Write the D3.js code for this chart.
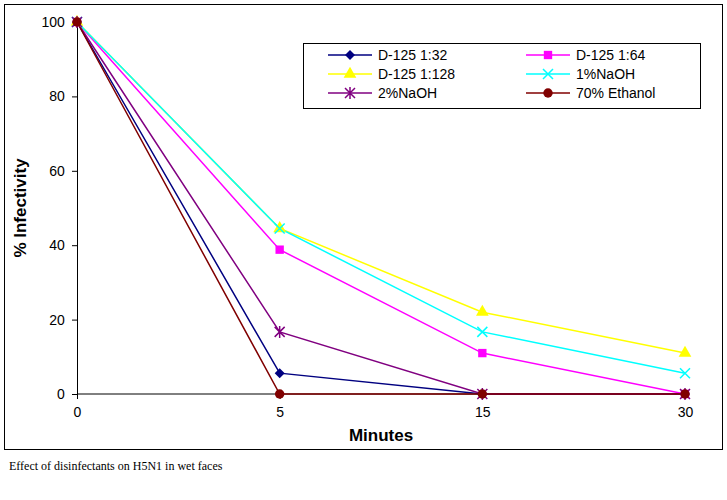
<!DOCTYPE html>
<html>
<head>
<script src="https://cdn.jsdelivr.net/npm/d3@7"></script>
<style>body{margin:0;background:#fff}</style>
</head>
<body>
<script>
// chart data
var minutes = ["0", "5", "15", "30"];
var yTicks = [0, 20, 40, 60, 80, 100];
var seriesNames = ["D-125 1:32", "D-125 1:64", "D-125 1:128", "1%NaOH", "2%NaOH", "70% Ethanol"];
var d125_32 = [100, 5.6, 0, 0];
var d125_64 = [100, 38.8, 11, 0];
var d125_128 = [100, 44.5, 22, 11];
var naoh1 = [100, 44.5, 16.7, 5.6];
var naoh2 = [100, 16.7, 0, 0];
var ethanol = [100, 0, 0, 0];
var colors = ["#000080", "#ff00ff", "#ffff00", "#00ffff", "#800080", "#800000"];
var symbols = ["diamond", "square", "triangle", "x", "star", "circle"];
var allSeries = [d125_32, d125_64, d125_128, naoh1, naoh2, ethanol];

var svg = d3.select("body").append("svg").attr("width", 727).attr("height", 500);
svg.append("rect").attr("x", 4.5).attr("y", 4.5).attr("width", 718).attr("height", 445)
  .attr("fill", "none").attr("stroke", "#000");

var x = d3.scalePoint().domain(minutes).range([77, 685]);
var y = d3.scaleLinear().domain([0, 100]).range([394, 22]);

var gx = svg.append("g").attr("transform", "translate(0,394)")
  .call(d3.axisBottom(x).tickSize(5).tickSizeOuter(0));
gx.select(".domain").attr("d", "M77,0H685");
var gy = svg.append("g").attr("transform", "translate(77,0)")
  .call(d3.axisLeft(y).tickValues(yTicks).tickSize(5).tickSizeOuter(0));
svg.selectAll(".tick text").attr("font-family", "Arial, Liberation Sans, sans-serif")
  .attr("font-size", "14px").attr("fill", "#000");
gx.selectAll(".tick text").attr("dy", "1.1em");
gy.selectAll(".tick text").attr("dx", "-0.3em");

svg.append("text").attr("x", 381).attr("y", 441).attr("text-anchor", "middle")
  .attr("font-family", "Arial, Liberation Sans, sans-serif").attr("font-weight", "bold")
  .attr("font-size", "17px").text("Minutes");
svg.append("text").attr("transform", "translate(26,208) rotate(-90)").attr("text-anchor", "middle")
  .attr("font-family", "Arial, Liberation Sans, sans-serif").attr("font-weight", "bold")
  .attr("font-size", "17px").text("% Infectivity");
svg.append("text").attr("x", 9).attr("y", 470)
  .attr("font-family", "Liberation Serif, serif").attr("font-size", "12px").text("Effect of disinfectants on H5N1 in wet faces");

function marker(g, k, cx, cy) {
  var c = colors[k];
  if (symbols[k] === "x") {
    g.append("path").attr("d", "M" + (cx-5) + "," + (cy-5) + "L" + (cx+5) + "," + (cy+5) + "M" + (cx-5) + "," + (cy+5) + "L" + (cx+5) + "," + (cy-5))
      .attr("stroke", c).attr("stroke-width", 1.5);
  } else if (symbols[k] === "star") {
    g.append("path").attr("d", "M" + (cx-5) + "," + (cy-5) + "L" + (cx+5) + "," + (cy+5) + "M" + (cx-5) + "," + (cy+5) + "L" + (cx+5) + "," + (cy-5) + "M" + cx + "," + (cy-6) + "V" + (cy+6))
      .attr("stroke", c).attr("stroke-width", 1.5);
  } else if (symbols[k] === "diamond") {
    g.append("path").attr("d", "M" + cx + "," + (cy-5) + "L" + (cx+5) + "," + cy + "L" + cx + "," + (cy+5) + "L" + (cx-5) + "," + cy + "Z")
      .attr("fill", c);
  } else {
    var t = {square: d3.symbolSquare, triangle: d3.symbolTriangle, circle: d3.symbolCircle}[symbols[k]];
    g.append("path").attr("d", d3.symbol().type(t).size(70)())
      .attr("transform", "translate(" + cx + "," + cy + ")").attr("fill", c);
  }
}

var line = d3.line().x(function(d, i) { return x(minutes[i]); }).y(function(d) { return y(d); });
allSeries.forEach(function(s, k) {
  svg.append("path").datum(s).attr("d", line).attr("fill", "none")
    .attr("stroke", colors[k]).attr("stroke-width", 1.5);
});
allSeries.forEach(function(s, k) {
  var g = svg.append("g");
  s.forEach(function(v, i) { marker(g, k, x(minutes[i]), y(v)); });
});

// legend
svg.append("rect").attr("x", 303.5).attr("y", 43.5).attr("width", 397).attr("height", 65)
  .attr("fill", "#fff").attr("stroke", "#000");
seriesNames.forEach(function(n, k) {
  var lx = 328 + (k % 2) * 198, ly = 55 + Math.floor(k / 2) * 19;
  svg.append("line").attr("x1", lx).attr("x2", lx + 44).attr("y1", ly).attr("y2", ly)
    .attr("stroke", colors[k]).attr("stroke-width", 1.5);
  marker(svg, k, lx + 22, ly);
  svg.append("text").attr("x", lx + 50).attr("y", ly + 5)
    .attr("font-family", "Arial, Liberation Sans, sans-serif").attr("font-size", "14px").text(n);
});
</script>
</body>
</html>
